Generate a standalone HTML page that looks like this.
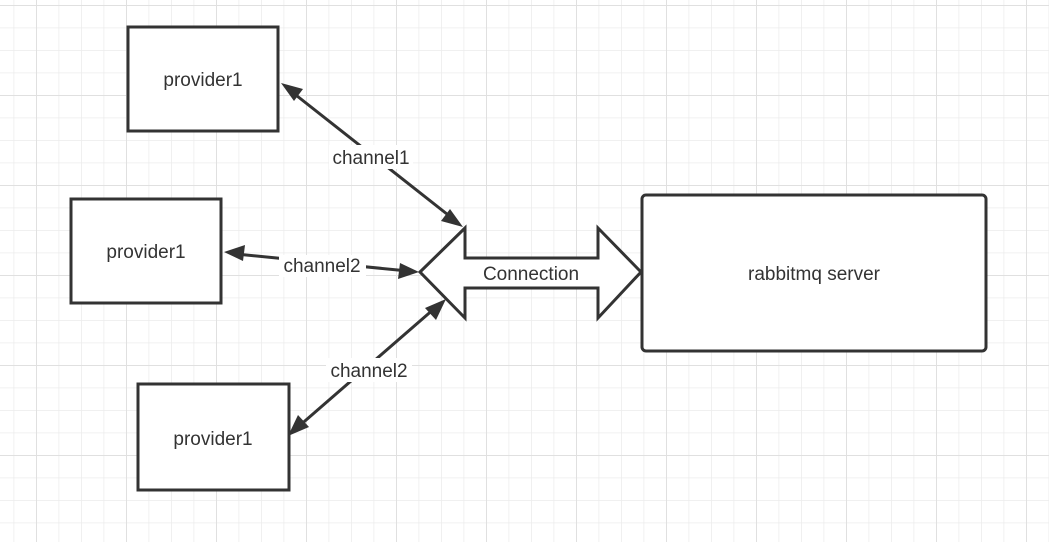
<!DOCTYPE html>
<html><head><meta charset="utf-8"><style>
html,body{margin:0;padding:0;background:#fff;}
svg{display:block;}
text{font-family:"Liberation Sans","Noto Sans CJK SC",sans-serif;fill:#333;}
</style></head><body>
<svg width="1049" height="542" viewBox="0 0 1049 542">
<defs>
<pattern id="minor" x="13.5" y="5" width="22.5" height="22.5" patternUnits="userSpaceOnUse">
<path d="M0 0H22.5M0 0V22.5" stroke="#ececec" stroke-width="1.5" fill="none"/>
</pattern>
<pattern id="major" x="36" y="5" width="90" height="90" patternUnits="userSpaceOnUse">
<path d="M0 0H90M0 0V90" stroke="#e0e0e0" stroke-width="2" fill="none"/>
</pattern>
</defs>
<rect width="1049" height="542" fill="url(#minor)"/>
<rect width="1049" height="542" fill="url(#major)"/>

<g stroke="#333" stroke-width="3" fill="#fff">
<rect x="128" y="27" width="150" height="104"/>
<rect x="71" y="199" width="150" height="104"/>
<rect x="138" y="384" width="151" height="106"/>
<rect x="642" y="195" width="344" height="156" rx="4"/>
<polygon points="420,272 465,228 465,258 598,258 598,228 641,272 598,318 598,288 465,288 465,318" stroke-linejoin="miter"/>
</g>

<g stroke="#333" stroke-width="3" fill="none">
<line x1="292" y1="92" x2="452" y2="218"/>
<line x1="236" y1="254" x2="408" y2="271"/>
<line x1="298" y1="427" x2="435" y2="308"/>
</g>
<g fill="#333">
<polygon points="281,83 303,89 294,101"/>
<polygon points="463,227 441,221 450,209"/>
<polygon points="224,252 245,245 243,261"/>
<polygon points="419,272 398,279 400,263"/>
<polygon points="288,436 298,415 309,427"/>
<polygon points="446,299 436,320 425,308"/>
</g>

<g fill="#fff">
<rect x="329" y="145" width="84" height="24"/>
<rect x="279" y="255" width="87" height="22"/>
<rect x="326" y="358" width="86" height="24"/>
</g>

<g font-size="19" text-anchor="middle">
<text x="203" y="86">provider1</text>
<text x="146" y="258">provider1</text>
<text x="213" y="445">provider1</text>
<text x="531" y="280">Connection</text>
<text x="814" y="280">rabbitmq server</text>
<text x="371" y="164">channel1</text>
<text x="322" y="272">channel2</text>
<text x="369" y="377">channel2</text>
</g>
</svg>
</body></html>
